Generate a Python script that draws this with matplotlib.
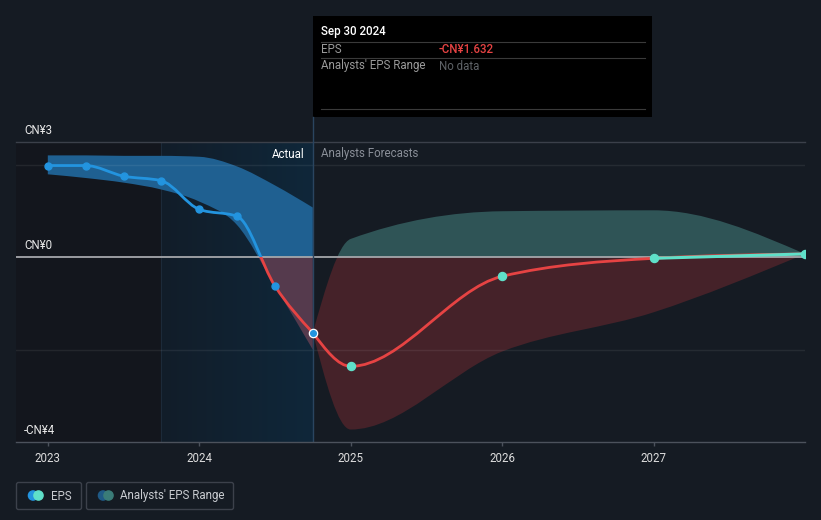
import numpy as np
import matplotlib
matplotlib.use('Agg')
import matplotlib.pyplot as plt
from matplotlib.path import Path
from matplotlib.patches import PathPatch, Rectangle, FancyBboxPatch, Circle
from matplotlib.lines import Line2D
from matplotlib.transforms import Affine2D

plt.rcParams['font.family'] = ['Roboto', 'DejaVu Sans']

# past EPS (quarterly, CN¥)
actual_x = [2023.0, 2023.25, 2023.5, 2023.75, 2024.0, 2024.25, 2024.5, 2024.75]
actual_eps = [1.99, 1.99, 1.76, 1.66, 1.04, 0.89, -0.62, -1.632]
actual_hi = [2.21, 2.21, 2.20, 2.20, 2.18, 1.97, 1.56, 1.08]
actual_lo = [1.80, 1.72, 1.62, 1.47, 1.21, 0.70, -0.62, -2.00]

# analysts forecasts
fc_x = [2024.75, 2025.0, 2026.0, 2027.0, 2028.0]
fc_eps = [-1.632, -2.36, -0.41, -0.02, 0.075]
fc_hi = [-1.632, 0.40, 1.00, 1.02, 0.075]
fc_lo = [-1.632, -3.73, -2.04, -1.19, 0.075]
growth_x = [2027.0, 2028.0]
growth_eps = [-0.02, 0.075]

year_ticks = [2023, 2024, 2025, 2026, 2027]
y_labels = [(2.5, 'CN¥3'), (0, 'CN¥0'), (-4, '-CN¥4')]

W, H = 821, 520
BG = '#151b23'
BLUE = '#2394df'
RED = '#e64343'
CYAN = '#5fe0c9'


def mono_verts(x, y):
    # monotone cubic (like d3 curveMonotoneX) as bezier control points
    x = np.asarray(x, float)
    y = np.asarray(y, float)
    h = np.diff(x)
    s = np.diff(y) / h
    n = len(x)
    m = np.zeros(n)
    for i in range(1, n - 1):
        p = (s[i - 1] * h[i] + s[i] * h[i - 1]) / (h[i - 1] + h[i])
        m[i] = (np.sign(s[i - 1]) + np.sign(s[i])) * min(abs(s[i - 1]), abs(s[i]), 0.5 * abs(p))
    if n > 2:
        m[0] = (3 * s[0] - m[1]) / 2
        m[-1] = (3 * s[-1] - m[-2]) / 2
    else:
        m[0] = m[-1] = s[0]
    verts = [(x[0], y[0])]
    for i in range(n - 1):
        verts += [(x[i] + h[i] / 3, y[i] + m[i] * h[i] / 3),
                  (x[i + 1] - h[i] / 3, y[i + 1] - m[i + 1] * h[i] / 3),
                  (x[i + 1], y[i + 1])]
    return verts


def curve_path(x, y):
    v = mono_verts(x, y)
    return Path(v, [Path.MOVETO] + [Path.CURVE4] * (len(v) - 1))


def band_path(x, lo, hi):
    top = mono_verts(x, hi)
    bot = mono_verts(x, lo)[::-1]
    verts = top + bot + [top[0]]
    codes = ([Path.MOVETO] + [Path.CURVE4] * (len(top) - 1) + [Path.LINETO]
             + [Path.CURVE4] * (len(bot) - 1) + [Path.CLOSEPOLY])
    return Path(verts, codes)


def clip_rect(ax, above):
    if above:
        return Rectangle((2020, 0), 20, 20, transform=ax.transData)
    return Rectangle((2020, -20), 20, 20, transform=ax.transData)


fig = plt.figure(figsize=(W / 100, H / 100), dpi=100)
fig.patch.set_facecolor(BG)
px = Affine2D().scale(1 / W, -1 / H).translate(0, 1) + fig.transFigure

ax = fig.add_axes([16 / W, (H - 442) / H, 789 / W, 300 / H])
ax.set_facecolor(BG)
xmin, xmax = 2022.79, 2028.0
ymin, ymax = -4, 2.5

# background regions
ax.axvspan(xmin, 2023.75, color='#13161d', lw=0, zorder=0)
grad = np.linspace(0, 1, 100)
c0 = np.array([18, 29, 41]) / 255
c1 = np.array([15, 39, 58]) / 255
img = (c0[None, :] * (1 - grad[:, None]) + c1[None, :] * grad[:, None])[None, :, :]
ax.imshow(img, extent=(2023.75, 2024.75, ymin, ymax), aspect='auto', zorder=0.5,
          interpolation='bilinear')
ax.axvline(2023.75, color='#1c2a39', lw=0.8, zorder=0.6)

# forecast band
for above, col in [(True, '#2f5456'), (False, '#452229')]:
    p = PathPatch(band_path(fc_x, fc_lo, fc_hi), facecolor=col, edgecolor='none', zorder=1)
    ax.add_patch(p)
    p.set_clip_path(clip_rect(ax, above))

# past band
for above, col in [(True, '#1f6091'), (False, '#553a4d')]:
    p = PathPatch(band_path(actual_x, actual_lo, actual_hi), facecolor=col, edgecolor='none', zorder=1.2)
    ax.add_patch(p)
    p.set_clip_path(clip_rect(ax, above))

# grid
for yv in [2, -2]:
    ax.axhline(yv, color='#ffffff', alpha=0.07, lw=1, zorder=2)
ax.axhline(2.5, color='#3b404a', lw=1, zorder=2, clip_on=False)
ax.axhline(0, color='#a5a7ab', lw=1.3, zorder=2)
ax.axvline(2024.75, color='#2a4560', lw=1, zorder=2.2)

# forecast line
ax.add_patch(PathPatch(curve_path(fc_x, fc_eps), fill=False, edgecolor=RED, lw=2, zorder=3,
                       capstyle='round', joinstyle='round'))
ax.plot(growth_x, growth_eps, color=CYAN, lw=2.2, zorder=3.2, solid_capstyle='round')

# past line, blue above zero / red below
for above, col in [(True, BLUE), (False, RED)]:
    p = PathPatch(curve_path(actual_x, actual_eps), fill=False, edgecolor=col, lw=2, zorder=3,
                  capstyle='round', joinstyle='round')
    ax.add_patch(p)
    p.set_clip_path(clip_rect(ax, above))

ax.plot(actual_x[:-1], actual_eps[:-1], 'o', color=BLUE, ms=5, zorder=4)
ax.plot(actual_x[-1:], actual_eps[-1:], 'o', color=BLUE, ms=6, mec='white', mew=0.9, zorder=4.5)
ax.plot(fc_x[1:], fc_eps[1:], 'o', color=CYAN, ms=5.8, zorder=4, clip_on=True)

ax.set_xlim(xmin, xmax)
ax.set_ylim(ymin, ymax)
for s in ['top', 'right', 'left']:
    ax.spines[s].set_visible(False)
ax.spines['bottom'].set_color('#4c525c')
ax.spines['bottom'].set_linewidth(1)
ax.set_yticks([])
ax.set_xticks(year_ticks)
ax.set_xticklabels([str(y) for y in year_ticks])
ax.tick_params(axis='x', colors='#4c525c', labelcolor='#dcdcdc', length=3, width=1,
               pad=4, labelsize=8.3)

for yv, lab in y_labels:
    ax.annotate(lab, xy=(8 / 789, yv), xycoords=ax.get_yaxis_transform(),
                xytext=(0, 8.3), textcoords='offset points', va='center', ha='left',
                color='#e8e8e8', fontsize=8.3)

# Actual / forecast header
fig.text(304, 154, 'Actual', transform=px, ha='right', va='center', color='#ffffff', fontsize=8.3)
fig.text(321, 154, 'Analysts Forecasts', transform=px, ha='left', va='center',
         color='#8a8f98', fontsize=8.3)
fig.add_artist(Line2D([313, 313], [117, 142], transform=px, color='#2a4560', lw=1))

# tooltip
fig.add_artist(Rectangle((313, 16), 339, 101, transform=px, facecolor='#000000', edgecolor='none'))
fig.text(321, 31, 'Sep 30 2024', transform=px, ha='left', va='center', color='#ffffff',
         fontsize=8.3, fontweight='medium')
for yy in [41.5, 58, 109]:
    fig.add_artist(Line2D([321, 645], [yy, yy], transform=px, color='#3a3a3a', lw=0.8))
fig.text(321, 49.5, 'EPS', transform=px, ha='left', va='center', color='#9a9a9a', fontsize=8.3)
fig.text(439, 49.5, '-CN¥1.632', transform=px, ha='left', va='center', color=RED,
         fontsize=8.3, fontweight='medium')
fig.text(321, 66, "Analysts' EPS Range", transform=px, ha='left', va='center',
         color='#9a9a9a', fontsize=8.3)
fig.text(439, 66, 'No data', transform=px, ha='left', va='center', color='#5f6368', fontsize=8.3)

# legend
for x0, w, c1_, c2_, lab in [(16.5, 65, BLUE, CYAN, 'EPS'),
                             (86.5, 147, '#1f5a86', '#3a7c78', "Analysts' EPS Range")]:
    fig.add_artist(FancyBboxPatch((x0, 482.5), w, 27, transform=px,
                                  boxstyle='round,pad=0,rounding_size=2',
                                  facecolor='none', edgecolor='#3c414b', lw=1))
    fig.add_artist(Circle((x0 + 16.5, 495.5), 4.6, transform=px, color=c1_))
    fig.add_artist(Circle((x0 + 22, 495.5), 4.6, transform=px, color=c2_))
    fig.text(x0 + 34, 496, lab, transform=px, ha='left', va='center', color='#c9ccd1', fontsize=8.3)

fig.savefig('out.png', dpi=100, facecolor=fig.get_facecolor())
